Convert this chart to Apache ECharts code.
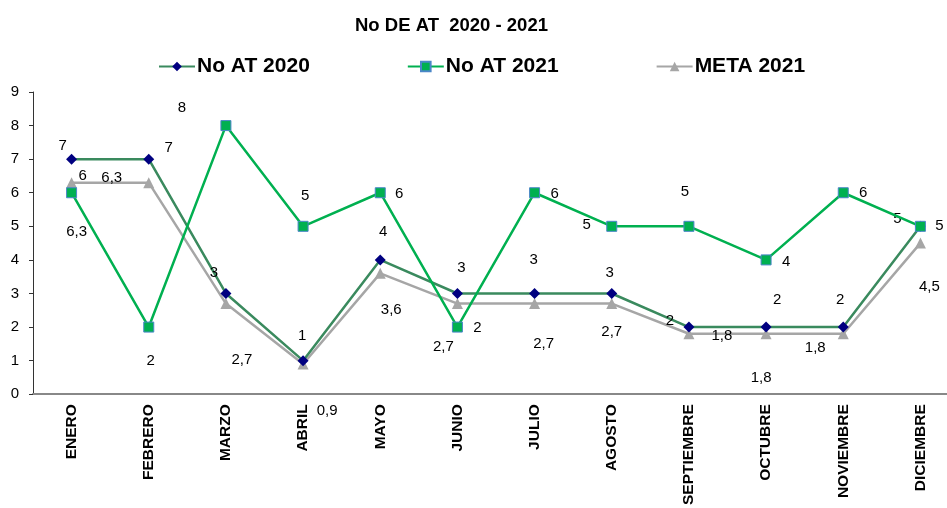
<!DOCTYPE html>
<html lang="es">
<head>
<meta charset="UTF-8">
<title>No DE AT 2020 - 2021</title>
<script src="https://cdn.jsdelivr.net/npm/echarts@6/dist/echarts.min.js"></script>
<style>
  html, body { margin: 0; padding: 0; background: #fff; overflow: hidden; }
  /* el área del gráfico sobresale un poco del borde derecho, como en el original */
  #chart { width: 960px; height: 508px; }
</style>
</head>
<body>
<div id="chart"></div>
<script>
  // datos
  var meses = ['ENERO', 'FEBRERO', 'MARZO', 'ABRIL', 'MAYO', 'JUNIO', 'JULIO',
    'AGOSTO', 'SEPTIEMBRE', 'OCTUBRE', 'NOVIEMBRE', 'DICIEMBRE'];
  var at2020 = [7, 7, 3, 1, 4, 3, 3, 3, 2, 2, 2, 5];
  var at2021 = [6, 2, 8, 5, 6, 2, 6, 5, 5, 4, 6, 5];
  var meta2021 = [6.3, 6.3, 2.7, 0.9, 3.6, 2.7, 2.7, 2.7, 1.8, 1.8, 1.8, 4.5];

  // desplazamiento de etiquetas (como quedaron movidas en el original)
  var off2020 = [[-9, -13], [20, -11], [-12, -21], [-1, -25], [3, -28], [4, -26],
    [-1, -34], [-2, -21], [-19, -6], [11, -27], [-3, -27], [-23, -7]];
  var off2021 = [[11, -17], [2, 34], [-44, -18], [2, -30], [19, 1], [20, 1],
    [20, 1], [-25, -1], [-4, -34], [20, 2], [20, 0], [19, 0]];
  var offMeta = [[5, 49], [-37, -5], [16, 56], [24, 47], [11, 37], [-14, 43],
    [9, 40], [0, 28], [33, 2], [-5, 44], [-28, 14], [9, 44]];

  function puntos(vals, offs) {
    return vals.map(function (v, i) {
      return { value: v, label: { offset: offs[i] } };
    });
  }

  var etiqueta = {
    show: true,
    position: 'inside',
    color: '#000',
    fontFamily: 'Liberation Sans, Arial',
    fontSize: 15,
    formatter: function (p) { return String(p.value).replace('.', ','); }
  };

  var myChart = echarts.init(document.getElementById('chart'));
  var option = {
    animation: false,
    textStyle: { fontFamily: 'Liberation Sans, Arial' },
    title: {
      text: 'No DE AT  2020 - 2021',
      left: 350,
      top: 11,
      textStyle: { fontSize: 18.5, fontWeight: 'bold', color: '#000' }
    },
    legend: {
      left: 153,
      top: 51,
      itemWidth: 36,
      itemHeight: 12,
      itemGap: 97,
      textStyle: { fontSize: 21, fontWeight: 'bold', color: '#000', padding: [0, 0, 0, -3] },
      data: ['No AT 2020', 'No AT 2021', 'META 2021']
    },
    grid: { left: 33, right: 1, top: 92, bottom: 113, containLabel: false },
    xAxis: {
      type: 'category',
      data: meses,
      axisLine: { lineStyle: { color: '#888', width: 2 } },
      axisTick: { show: false },
      axisLabel: {
        rotate: 90,
        margin: 10,
        color: '#000',
        fontSize: 15.5,
        fontWeight: 'bold',
        interval: 0
      }
    },
    yAxis: {
      type: 'value',
      min: 0,
      max: 9,
      interval: 1,
      splitLine: { show: false },
      axisLine: { show: true, lineStyle: { color: '#333', width: 1 } },
      axisTick: { show: true, length: 4, lineStyle: { color: '#333' } },
      axisLabel: { color: '#000', fontSize: 15, margin: 14 }
    },
    series: [
      {
        name: 'No AT 2020',
        type: 'line',
        data: puntos(at2020, off2020),
        symbol: 'diamond',
        symbolSize: 11,
        lineStyle: { color: '#3A8A5E', width: 2.5 },
        itemStyle: { color: '#000080', borderWidth: 0 },
        label: etiqueta,
        z: 3
      },
      {
        name: 'No AT 2021',
        type: 'line',
        data: puntos(at2021, off2021),
        symbol: 'rect',
        symbolSize: 10,
        lineStyle: { color: '#00B050', width: 2.5 },
        itemStyle: { color: '#00B050', borderColor: '#4A86C8', borderWidth: 1 },
        label: etiqueta,
        z: 4
      },
      {
        name: 'META 2021',
        type: 'line',
        data: puntos(meta2021, offMeta),
        symbol: 'triangle',
        symbolSize: 11,
        lineStyle: { color: '#A6A6A6', width: 2.5 },
        itemStyle: { color: '#A6A6A6', borderWidth: 0 },
        label: etiqueta,
        z: 2
      }
    ]
  };
  myChart.setOption(option);
</script>
</body>
</html>
